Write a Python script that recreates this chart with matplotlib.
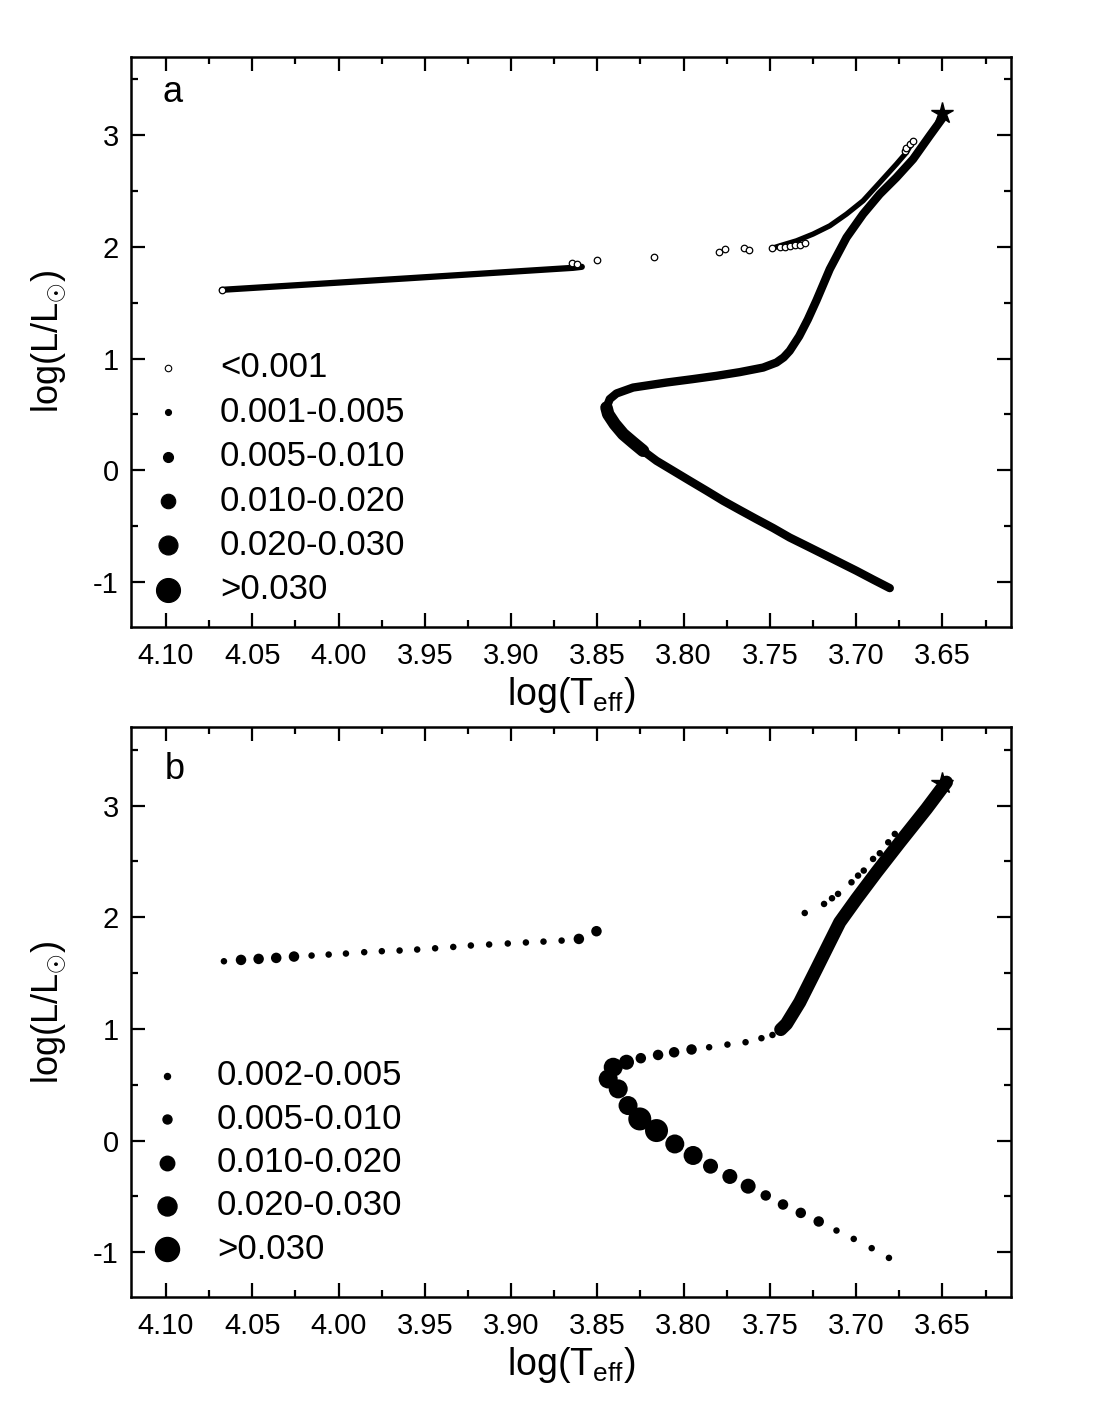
import matplotlib
matplotlib.use("Agg")
import matplotlib.pyplot as plt
from matplotlib.ticker import MultipleLocator

plt.rcParams['font.family'] = ['Liberation Sans', 'DejaVu Sans']
plt.rcParams['mathtext.fontset'] = 'custom'
plt.rcParams['mathtext.rm'] = 'Liberation Sans'
plt.rcParams['mathtext.it'] = 'Liberation Sans:italic'

# ---- panel a: evolutionary track (ZAMS -> turnoff -> RGB tip) ----
a_main_x = [3.6805, 3.6902, 3.6998, 3.7095, 3.7192, 3.7288, 3.7385, 3.7481, 3.7578,
            3.7674, 3.7771, 3.7867, 3.7964, 3.8061, 3.8157, 3.8235, 3.8293, 3.8350,
            3.8399, 3.8437, 3.8447, 3.8428, 3.8389, 3.8293, 3.8099, 3.7950, 3.7809,
            3.7675, 3.7539, 3.7462, 3.7420, 3.7385, 3.7330, 3.7280, 3.7230, 3.7153,
            3.7056, 3.6960, 3.6863, 3.6767, 3.6670, 3.6574, 3.6497]
a_main_y = [-1.056, -0.979, -0.901, -0.826, -0.751, -0.677, -0.603, -0.518, -0.438,
            -0.357, -0.274, -0.184, -0.095, -0.005, 0.084, 0.174, 0.248, 0.323,
            0.413, 0.502, 0.561, 0.637, 0.687, 0.740, 0.785, 0.815, 0.845,
            0.878, 0.919, 0.964, 1.010, 1.069, 1.200, 1.350, 1.520, 1.800,
            2.083, 2.293, 2.472, 2.620, 2.785, 2.994, 3.158]
a_thick_x = [3.8447, 3.8437, 3.8399, 3.8350, 3.8293, 3.8235]
a_thick_y = [0.561, 0.502, 0.413, 0.323, 0.248, 0.174]

a_hb_x = [4.0676, 3.9600, 3.8640, 3.8590]
a_hb_y = [1.615, 1.718, 1.812, 1.821]

a_agb_x = [3.7485, 3.7443, 3.7346, 3.7250, 3.7153, 3.7056, 3.6960, 3.6863, 3.6767,
           3.6709, 3.6670]
a_agb_y = [1.988, 2.009, 2.054, 2.114, 2.188, 2.293, 2.412, 2.576, 2.740,
           2.844, 2.949]

a_open_x = [4.0676, 3.8648, 3.8620, 3.8503, 3.8173, 3.7796, 3.7761, 3.7651, 3.7622,
            3.7485, 3.7442, 3.7413, 3.7384, 3.7355, 3.7326, 3.7297,
            3.6719, 3.6709, 3.6689, 3.6670]
a_open_y = [1.615, 1.857, 1.848, 1.884, 1.911, 1.955, 1.982, 1.991, 1.973,
            1.988, 1.994, 2.000, 2.006, 2.012, 2.018, 2.030,
            2.859, 2.889, 2.918, 2.948]

# ---- panel b: sampled points with size class ----
b_x = [4.0664, 4.0565, 4.0463, 4.0361, 4.0258, 4.0156, 4.0057, 3.9957, 3.9851, 3.9749,
       3.9646, 3.9544, 3.9440, 3.9335, 3.9233, 3.9127, 3.9019, 3.8914, 3.8812, 3.8707,
       3.8607, 3.8505,
       3.6810, 3.6910, 3.7014, 3.7114, 3.7217, 3.7321, 3.7424, 3.7524, 3.7626, 3.7732,
       3.7844, 3.7945, 3.8051, 3.8157, 3.8254, 3.8322, 3.8379, 3.8437, 3.8408, 3.8331,
       3.8248, 3.8148, 3.8055, 3.7954, 3.7852, 3.7746, 3.7641, 3.7549, 3.7485, 3.7437,
       3.7298, 3.7186, 3.7140, 3.7105, 3.7027, 3.6989, 3.6956, 3.6902, 3.6863, 3.6814,
       3.6776]
b_y = [1.606, 1.618, 1.627, 1.636, 1.648, 1.657, 1.666, 1.675, 1.687, 1.696,
       1.702, 1.711, 1.722, 1.734, 1.747, 1.756, 1.765, 1.774, 1.782, 1.791,
       1.806, 1.875,
       -1.050, -0.963, -0.880, -0.805, -0.724, -0.647, -0.572, -0.491, -0.408, -0.321,
       -0.229, -0.133, -0.030, 0.090, 0.194, 0.314, 0.463, 0.552, 0.657, 0.702,
       0.738, 0.767, 0.791, 0.816, 0.836, 0.860, 0.881, 0.917, 0.946, 0.995,
       2.038, 2.119, 2.170, 2.209, 2.313, 2.373, 2.418, 2.522, 2.573, 2.671,
       2.746]
b_cls = [0, 1, 1, 1, 1, 0, 0, 0, 0, 0,
         0, 0, 0, 0, 0, 0, 0, 0, 0, 0,
         1, 1,
         0, 0, 0, 0, 1, 1, 1, 1, 2, 2,
         2, 3, 3, 4, 4, 3, 3, 3, 3, 2,
         1, 1, 1, 1, 0, 0, 0, 0, 0, 0,
         0, 0, 0, 0, 0, 0, 0, 0, 0, 0,
         0]
b_rgb_x = [3.7437, 3.7404, 3.7327, 3.7230, 3.7153, 3.7095, 3.6998, 3.6882, 3.6747,
           3.6593, 3.6477]
b_rgb_y = [0.995, 1.045, 1.239, 1.537, 1.776, 1.955, 2.164, 2.403, 2.671,
           2.970, 3.209]

tip_x, tip_y = 3.65, 3.20

a_labels = ['<0.001', '0.001-0.005', '0.005-0.010', '0.010-0.020', '0.020-0.030', '>0.030']
a_leg_d = [6.5, 6, 10, 14.5, 19, 24]
b_labels = ['0.002-0.005', '0.005-0.010', '0.010-0.020', '0.020-0.030', '>0.030']
b_leg_d = [6, 9, 14.5, 19, 24]
cls_d = [6.5, 10.5, 15, 19, 23]   # marker diameter in pixels per class

PX = 0.72  # points per pixel at dpi 100


def style_axes(ax):
    ax.set_xlim(4.12, 3.61)
    ax.set_ylim(-1.4, 3.7)
    ax.xaxis.set_major_locator(MultipleLocator(0.05))
    ax.xaxis.set_minor_locator(MultipleLocator(0.025))
    ax.yaxis.set_major_locator(MultipleLocator(1))
    ax.yaxis.set_minor_locator(MultipleLocator(0.5))
    ax.xaxis.set_major_formatter(plt.FormatStrFormatter('%.2f'))
    ax.yaxis.set_major_formatter(plt.FuncFormatter(lambda v, p: '%d' % round(v)))
    ax.tick_params(which='both', direction='in', top=True, right=True, width=1.6,
                   labelsize=21)
    ax.tick_params(which='major', length=10)
    ax.tick_params(which='minor', length=5)
    ax.tick_params(axis='x', pad=11)
    ax.tick_params(axis='y', pad=9)
    for s in ax.spines.values():
        s.set_linewidth(1.8)
    ax.set_xlabel(r'log(T$_{\rm eff}$)', fontsize=27)
    ax.set_ylabel(r'log(L/L$_{\odot}$)', fontsize=26)
    ax.xaxis.set_label_coords(0.5, -0.085)
    ax.yaxis.set_label_coords(-0.072, 0.5)


fig = plt.figure(figsize=(11, 14.24), dpi=100)
ax1 = fig.add_axes([0.1195, 0.560, 0.800, 0.400])
ax2 = fig.add_axes([0.1195, 0.0892, 0.800, 0.400])

# panel a
ax1.plot(a_main_x, a_main_y, color='k', lw=6, solid_capstyle='round', solid_joinstyle='round')
ax1.plot(a_thick_x, a_thick_y, color='k', lw=9, solid_capstyle='round', solid_joinstyle='round')
ax1.plot(a_hb_x, a_hb_y, color='k', lw=4.5, solid_capstyle='round')
ax1.plot(a_agb_x, a_agb_y, color='k', lw=3.8, solid_capstyle='round', solid_joinstyle='round')
ax1.plot(a_open_x, a_open_y, 'o', ms=6.5 * PX, mfc='white', mec='k', mew=0.9, ls='none')
ax1.plot([tip_x], [tip_y], marker='*', color='k', ms=16, ls='none')
ax1.text(0.047, 0.937, 'a', transform=ax1.transAxes, fontsize=26, ha='center', va='center')
for i, (lab, d) in enumerate(zip(a_labels, a_leg_d)):
    yy = 0.454 - i * 0.0779
    fc = 'white' if i == 0 else 'k'
    ax1.plot([0.0418], [yy], 'o', ms=d * PX, mfc=fc, mec='k', mew=0.8,
             transform=ax1.transAxes, clip_on=False)
    ax1.text(0.1006, yy, lab, transform=ax1.transAxes, fontsize=25, va='center', ha='left')
style_axes(ax1)

# panel b
ax2.plot(b_rgb_x, b_rgb_y, color='k', lw=9.5, solid_capstyle='round', solid_joinstyle='round')
ax2.scatter(b_x, b_y, s=[(cls_d[c] * PX) ** 2 for c in b_cls], color='k', linewidths=0)
ax2.plot([tip_x], [tip_y], marker='*', color='k', ms=16, ls='none')
ax2.text(0.049, 0.926, 'b', transform=ax2.transAxes, fontsize=26, ha='center', va='center')
for i, (lab, d) in enumerate(zip(b_labels, b_leg_d)):
    yy = 0.388 - i * 0.076
    ax2.plot([0.040], [yy], 'o', ms=d * PX, color='k', transform=ax2.transAxes, clip_on=False)
    ax2.text(0.0972, yy, lab, transform=ax2.transAxes, fontsize=25, va='center', ha='left')
style_axes(ax2)

fig.savefig('out.png', dpi=100, facecolor='white')
